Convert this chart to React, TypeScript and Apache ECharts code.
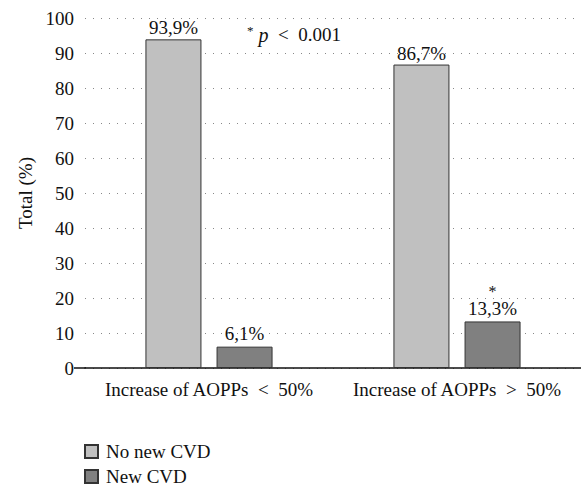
import React, { useEffect, useRef } from "react";
import * as echarts from "echarts";

const categories = ["Increase of AOPPs  <  50%", "Increase of AOPPs  >  50%"];
const noNewCvd = [93.9, 86.7];
const newCvd = [6.1, 13.3];
const newCvdMarks = ["", "*"];
const seriesNames = ["No new CVD", "New CVD"];

const FONT = "Liberation Serif";
const FS = 19;

const fmt = (v: number) => v.toFixed(1).replace(".", ",") + "%";

export default function App() {
  const ref = useRef<HTMLDivElement>(null);
  useEffect(() => {
    if (!ref.current) return;
    const chart = echarts.init(ref.current, undefined, { renderer: "svg" });
    chart.setOption({
      animation: false,
      textStyle: { fontFamily: FONT, color: "#111" },
      grid: { left: 85, right: 0, top: 18, bottom: 120 },
      legend: {
        orient: "vertical",
        left: 79,
        top: 437,
        height: 60,
        itemWidth: 13,
        itemHeight: 13,
        itemGap: 6,
        icon: "rect",
        textStyle: { fontFamily: FONT, fontSize: FS, color: "#111", padding: [0, 0, 0, 3] },
        data: seriesNames,
      },
      xAxis: {
        type: "category",
        data: categories,
        axisLine: { lineStyle: { color: "#111", width: 1.5 } },
        axisTick: { show: false },
        axisLabel: {
          fontFamily: FONT,
          fontSize: FS,
          color: "#111",
          margin: 12,
          interval: 0,
          hideOverlap: false,
        },
      },
      yAxis: {
        type: "value",
        min: 0,
        max: 100,
        interval: 10,
        name: "Total (%)",
        nameLocation: "middle",
        nameGap: 48,
        nameTextStyle: { fontFamily: FONT, fontSize: FS, color: "#111" },
        axisLine: { show: false },
        axisTick: { show: false },
        axisLabel: { fontFamily: FONT, fontSize: FS, color: "#111", margin: 11 },
        splitLine: {
          lineStyle: { color: "#888", width: 1, type: [1, 7] },
        },
      },
      series: [
        {
          name: seriesNames[0],
          type: "bar",
          data: noNewCvd,
          barWidth: 56,
          barGap: "27%",
          itemStyle: { color: "#c0c0c0", borderColor: "#333", borderWidth: 1 },
          label: {
            show: true,
            position: "top",
            distance: 2,
            fontFamily: FONT,
            fontSize: FS,
            color: "#111",
            formatter: (p: any) => fmt(p.value),
          },
        },
        {
          name: seriesNames[1],
          type: "bar",
          data: newCvd,
          barWidth: 56,
          itemStyle: { color: "#808080", borderColor: "#333", borderWidth: 1 },
          label: {
            show: true,
            position: "top",
            distance: 3,
            fontFamily: FONT,
            fontSize: FS,
            color: "#111",
            formatter: (p: any) => {
              const m = newCvdMarks[p.dataIndex];
              return m ? "{m|" + m + "}\n{v|" + fmt(p.value) + "}" : "{v|" + fmt(p.value) + "}";
            },
            rich: {
              m: { fontFamily: FONT, fontSize: 16, lineHeight: 14, color: "#111" },
              v: { fontFamily: FONT, fontSize: FS, lineHeight: 20, color: "#111" },
            },
          },
        },
      ],
      graphic: [
        {
          type: "line",
          shape: { x1: 74, y1: 368, x2: 86, y2: 368 },
          style: { stroke: "#111", lineWidth: 1.5 },
        },
        {
          type: "text",
          left: 247,
          top: 24,
          style: {
            text: "{s|*}{p| p}{n|  <  0.001}",
            rich: {
              s: { fontFamily: FONT, fontSize: 13, verticalAlign: "top", padding: [0, 0, 8, 0] },
              p: { fontFamily: FONT, fontSize: 20, fontStyle: "italic" },
              n: { fontFamily: FONT, fontSize: FS },
            },
            fill: "#111",
          },
        },
      ],
    });
    return () => chart.dispose();
  }, []);
  return <div ref={ref} style={{ width: 581, height: 488, position: "absolute", left: 0, top: 0 }} />;
}
